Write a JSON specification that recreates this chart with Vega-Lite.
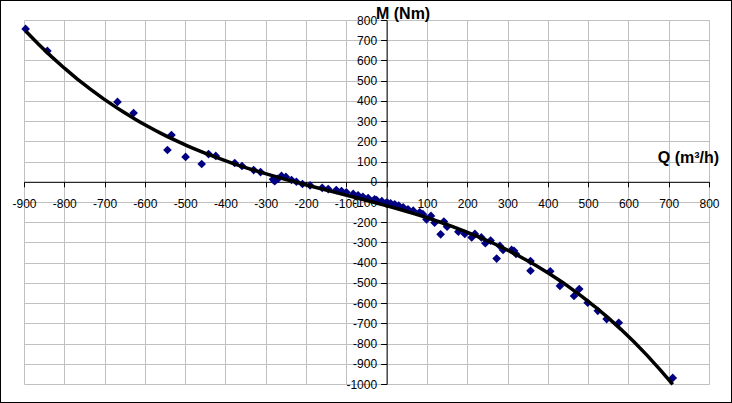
{
  "$schema": "https://vega.github.io/schema/vega-lite/v6.json",
  "width": 685,
  "height": 364,
  "autosize": {"type": "none"},
  "padding": {"left": 24, "top": 20, "right": 23, "bottom": 19},
  "background": "white",
  "config": {
    "view": {"stroke": null},
    "font": "Liberation Sans"
  },
  "data": {
    "values": [
      {"q": -896, "m": 756}, {"q": -842, "m": 647}, {"q": -668, "m": 395}, {"q": -628, "m": 340},
      {"q": -534, "m": 231}, {"q": -544, "m": 157}, {"q": -499, "m": 123}, {"q": -459, "m": 88},
      {"q": -442, "m": 137}, {"q": -424, "m": 128}, {"q": -377, "m": 93}, {"q": -359, "m": 78},
      {"q": -330, "m": 58}, {"q": -313, "m": 48}, {"q": -282, "m": 12}, {"q": -276, "m": 8},
      {"q": -270, "m": 14}, {"q": -278, "m": 3}, {"q": -261, "m": 29}, {"q": -250, "m": 24},
      {"q": -236, "m": 9}, {"q": -224, "m": 0}, {"q": -209, "m": -11}, {"q": -190, "m": -18},
      {"q": -160, "m": -30}, {"q": -145, "m": -36}, {"q": -125, "m": -41}, {"q": -112, "m": -46},
      {"q": -100, "m": -52}, {"q": -83, "m": -60}, {"q": -71, "m": -67}, {"q": -59, "m": -74},
      {"q": -46, "m": -80}, {"q": -30, "m": -87}, {"q": -25, "m": -90}, {"q": -12, "m": -96},
      {"q": 0, "m": -103}, {"q": 10, "m": -107}, {"q": 20, "m": -111}, {"q": 30, "m": -118},
      {"q": 41, "m": -126}, {"q": 53, "m": -136}, {"q": 66, "m": -143}, {"q": 82, "m": -151},
      {"q": 90, "m": -160}, {"q": 99, "m": -186}, {"q": 110, "m": -169}, {"q": 119, "m": -202},
      {"q": 134, "m": -260}, {"q": 142, "m": -197}, {"q": 150, "m": -222}, {"q": 178, "m": -247},
      {"q": 194, "m": -258}, {"q": 211, "m": -275}, {"q": 219, "m": -258}, {"q": 235, "m": -275},
      {"q": 245, "m": -304}, {"q": 258, "m": -291}, {"q": 273, "m": -380}, {"q": 281, "m": -317},
      {"q": 289, "m": -337}, {"q": 310, "m": -337}, {"q": 316, "m": -341}, {"q": 321, "m": -357},
      {"q": 357, "m": -392}, {"q": 357, "m": -440}, {"q": 406, "m": -443}, {"q": 430, "m": -515},
      {"q": 465, "m": -565}, {"q": 478, "m": -530}, {"q": 499, "m": -598}, {"q": 524, "m": -638},
      {"q": 546, "m": -679}, {"q": 576, "m": -697}, {"q": 710, "m": -970}
    ]
  },
  "encoding": {
    "x": {
      "field": "q", "type": "quantitative",
      "scale": {"domain": [-900, 800], "nice": false, "zero": false},
      "axis": {
        "values": [-900, -800, -700, -600, -500, -400, -300, -200, -100, 0, 100, 200, 300, 400, 500, 600, 700, 800],
        "labelExpr": "'' + datum.value",
        "offset": -202.2,
        "title": "Q (m³/h)",
        "titleFont": "Liberation Sans", "titleFontSize": 16, "titleFontWeight": "bold", "titleColor": "black",
        "titleX": 664, "titleY": -24, "titleAlign": "center", "titleBaseline": "middle", "titleAngle": 0,
        "grid": true, "gridColor": "#c0c0c0", "gridWidth": 1, "gridOpacity": 1,
        "domainColor": "black", "domainWidth": 1,
        "tickColor": "black", "tickSize": 5, "tickWidth": 1,
        "labelFont": "Liberation Sans", "labelFontSize": 12, "labelColor": "black",
        "labelPadding": 12, "labelOverlap": false, "labelBound": false, "labelFlush": false
      }
    },
    "y": {
      "field": "m", "type": "quantitative",
      "scale": {"domain": [-1000, 800], "nice": false, "zero": false},
      "axis": {
        "values": [-1000, -900, -800, -700, -600, -500, -400, -300, -200, -100, 0, 100, 200, 300, 400, 500, 600, 700, 800],
        "labelExpr": "'' + datum.value",
        "offset": -362.6,
        "title": "M (Nm)",
        "titleFont": "Liberation Sans", "titleFontSize": 16, "titleFontWeight": "bold", "titleColor": "black",
        "titleX": 16, "titleY": -7, "titleAlign": "center", "titleBaseline": "middle", "titleAngle": 0,
        "grid": true, "gridColor": "#c0c0c0", "gridWidth": 1, "gridOpacity": 1,
        "domainColor": "black", "domainWidth": 1,
        "tickColor": "black", "tickSize": 6, "tickWidth": 1,
        "labelFont": "Liberation Sans", "labelFontSize": 12, "labelColor": "black",
        "labelPadding": 4, "labelOverlap": false, "labelBound": false, "labelFlush": false
      }
    }
  },
  "layer": [
    {
      "mark": {"type": "rect", "fill": null, "stroke": "black", "strokeWidth": 1, "clip": false},
      "encoding": {
        "x": {"datum": -958.3, "type": "quantitative"},
        "x2": {"datum": 855.9},
        "y": {"datum": 896.4, "type": "quantitative"},
        "y2": {"datum": -1091.5}
      }
    },
    {
      "mark": {"type": "point", "shape": "diamond", "filled": true, "size": 75, "color": "#000080", "opacity": 1}
    },
    {
      "transform": [{"regression": "m", "on": "q", "method": "poly", "order": 3}],
      "mark": {"type": "line", "color": "black", "strokeWidth": 3.5}
    }
  ]
}
